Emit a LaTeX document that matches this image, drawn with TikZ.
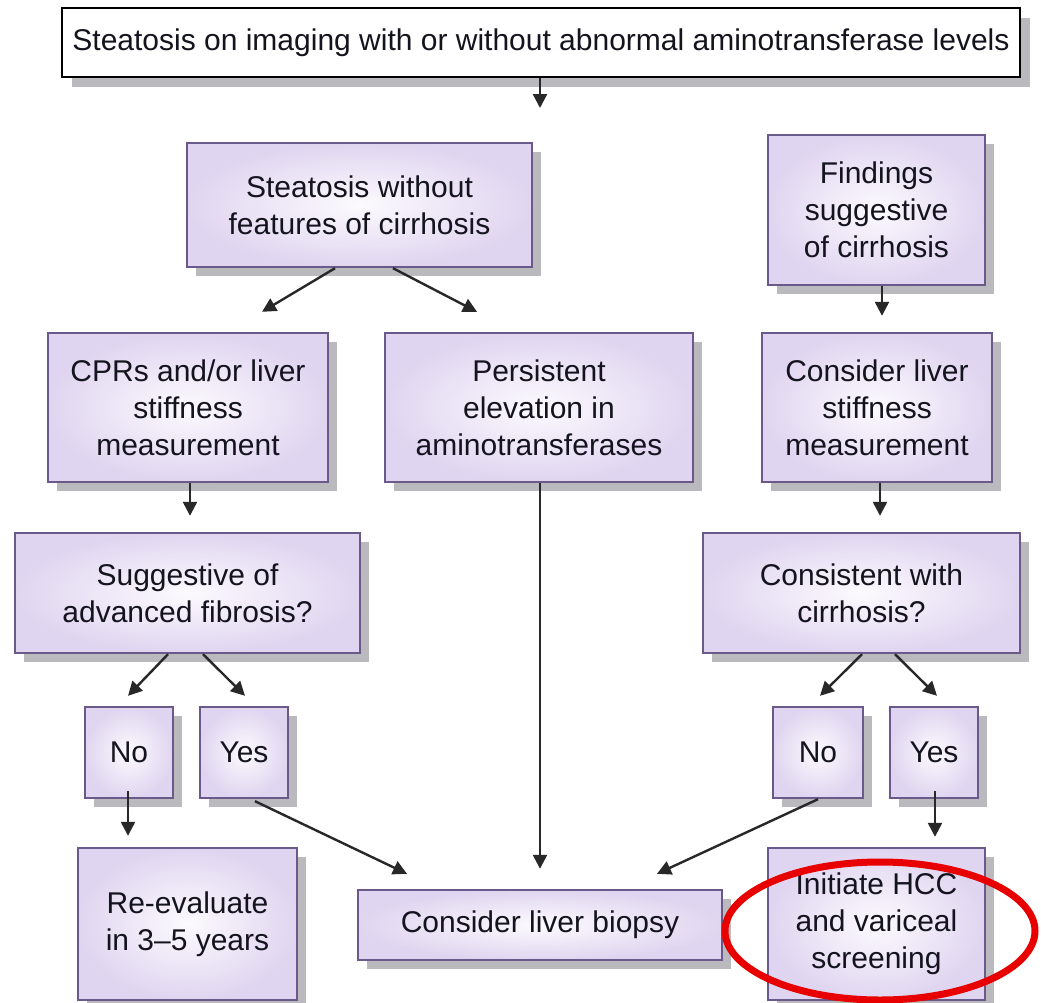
\documentclass[tikz,border=0pt]{standalone}
\usepackage{fontspec}
\setmainfont{Liberation Sans}
\usetikzlibrary{arrows.meta,shadows,calc}
\definecolor{boxedge}{RGB}{105,90,138}
\definecolor{boxout}{RGB}{224,213,240}
\definecolor{boxin}{RGB}{252,250,254}
\definecolor{txt}{RGB}{20,20,30}
\definecolor{arrowc}{RGB}{40,40,40}
\definecolor{shadowc}{RGB}{185,185,190}
\definecolor{ringred}{RGB}{232,0,0}
\tikzset{
  pbox/.style={draw=boxedge, line width=1.2pt, inner color=boxin, outer color=boxout,
    drop shadow={shadow xshift=4.5pt, shadow yshift=-4.5pt, fill=shadowc, opacity=1},
    align=center, inner sep=0pt, text=txt,
    font=\fontsize{15}{18.5}\selectfont},
  topbox/.style={draw=black, line width=1.1pt, fill=white,
    drop shadow={shadow xshift=5pt, shadow yshift=-5pt, fill=shadowc, opacity=1},
    align=center, inner sep=0pt, text=txt,
    font=\fontsize{15}{18}\selectfont},
  arr/.style={draw=arrowc, line width=1.2pt, -{Triangle[length=7pt,width=7pt]}},
}
\begin{document}
\begin{tikzpicture}[x=0.5pt,y=-0.5pt]
\useasboundingbox (0,0) rectangle (1041,1003);
% boxes
\node[topbox, minimum width=479pt, minimum height=34.5pt] (top) at (541,42.5)
  {Steatosis on imaging with or without abnormal aminotransferase levels};
\node[pbox, minimum width=172.5pt, minimum height=62pt] (s1) at (359.5,205)
  {Steatosis without\\features of cirrhosis};
\node[pbox, minimum width=108.5pt, minimum height=75pt] (fc) at (876.5,210)
  {Findings\\suggestive\\of cirrhosis};
\node[pbox, minimum width=140pt, minimum height=74.5pt] (cpr) at (188,407.5)
  {CPRs and/or liver\\stiffness\\measurement};
\node[pbox, minimum width=154pt, minimum height=74.5pt] (pers) at (539,407.5)
  {Persistent\\elevation in\\aminotransferases};
\node[pbox, minimum width=115pt, minimum height=74.5pt] (cls) at (877,407.5)
  {Consider liver\\stiffness\\measurement};
\node[pbox, minimum width=172.5pt, minimum height=60pt] (sug) at (187.5,593)
  {Suggestive of\\advanced fibrosis?};
\node[pbox, minimum width=158.5pt, minimum height=60pt] (cons) at (861.5,593)
  {Consistent with\\cirrhosis?};
\node[pbox, minimum width=44pt, minimum height=45.5pt] (noL) at (129,752.5) {No};
\node[pbox, minimum width=44pt, minimum height=45.5pt] (yesL) at (244,752.5) {Yes};
\node[pbox, minimum width=45pt, minimum height=45.5pt] (noR) at (818,752.5) {No};
\node[pbox, minimum width=44pt, minimum height=45.5pt] (yesR) at (934,752.5) {Yes};
\node[pbox, minimum width=109.5pt, minimum height=76pt] (reev) at (187.5,924)
  {Re-evaluate\\in 3–5 years};
\node[pbox, minimum width=182pt, minimum height=35pt] (bio) at (540,925)
  {Consider liver biopsy};
\node[pbox, minimum width=108.5pt, minimum height=76pt] (init) at (876.5,924)
  {Initiate HCC\\and variceal\\screening};
\coordinate (topend) at (540,108);
% connectors
\draw[arr] ($(top.south)+(-1,0)$) -- (topend);
\draw[arr] ($(s1.south)+(-24.5,0)$) -- ($(cpr.north)+(74,-20)$);
\draw[arr] ($(s1.south)+(33.5,0)$) -- ($(pers.north)+(-62,-20)$);
\draw[arr] ($(fc.south)+(5.5,0)$) -- ($(cls.north)+(5,-16)$);
\draw[arr] ($(cpr.south)+(2,0)$) -- ($(sug.north)+(2.5,-16)$);
\draw[arr] ($(cls.south)+(3,0)$) -- ($(cons.north)+(18.5,-16)$);
\draw[arr] ($(sug.south)+(-19.5,0)$) -- ($(noL.north)+(-1,-10)$);
\draw[arr] ($(sug.south)+(15.5,0)$) -- ($(yesL.north)+(1,-10)$);
\draw[arr] ($(cons.south)+(0.5,0)$) -- ($(noR.north)+(2,-10)$);
\draw[arr] ($(cons.south)+(33.5,0)$) -- ($(yesR.north)+(3,-10)$);
\draw[arr] ($(noL.south)+(-1,-8)$) -- ($(reev.north)+(-59.5,-11)$);
\draw[arr] ($(yesL.south)+(11,2)$) -- ($(bio.north)+(-133,-15)$);
\draw[arr] ($(pers.south)+(1,0)$) -- ($(bio.north)+(0,-20)$);
\draw[arr] ($(noR.south)+(0,0)$) -- ($(bio.north)+(117,-15)$);
\draw[arr] ($(yesR.south)+(1,-8)$) -- ($(init.north)+(58.5,-10)$);
% red highlight ring
\draw[ringred, line width=3.5pt] (880,931) ellipse [x radius=77.5pt, y radius=34.5pt];
\end{tikzpicture}
\end{document}
